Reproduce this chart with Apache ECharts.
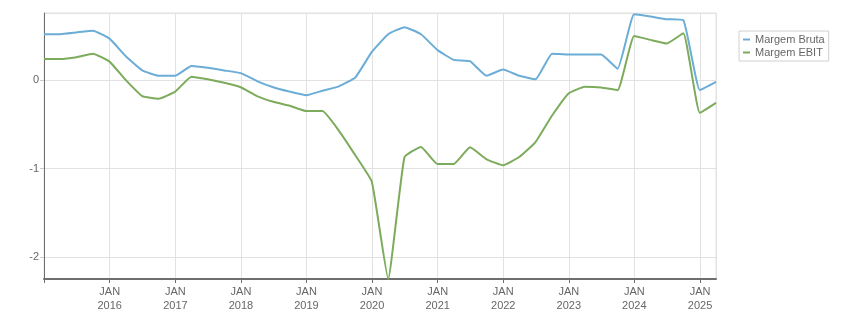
<!DOCTYPE html>
<html>
<head>
<meta charset="utf-8">
<script src="https://cdn.jsdelivr.net/npm/echarts@6/dist/echarts.min.js"></script>
<style>
  html, body { margin: 0; padding: 0; background: #fff; }
  #chart { width: 851px; height: 313px; }
</style>
</head>
<body>
<div id="chart"></div>
<script>
// quarter-end dates
const dates = [
  "2014-12-31",
  "2015-03-31", "2015-06-30", "2015-09-30", "2015-12-31",
  "2016-03-31", "2016-06-30", "2016-09-30", "2016-12-31",
  "2017-03-31", "2017-06-30", "2017-09-30", "2017-12-31",
  "2018-03-31", "2018-06-30", "2018-09-30", "2018-12-31",
  "2019-03-31", "2019-06-30", "2019-09-30", "2019-12-31",
  "2020-03-31", "2020-06-30", "2020-09-30", "2020-12-31",
  "2021-03-31", "2021-06-30", "2021-09-30", "2021-12-31",
  "2022-03-31", "2022-06-30", "2022-09-30", "2022-12-31",
  "2023-03-31", "2023-06-30", "2023-09-30", "2023-12-31",
  "2024-03-31", "2024-06-30", "2024-09-30", "2024-12-31",
  "2025-03-31"
];

const margemBruta = [
  0.52,
  0.52, 0.54, 0.56, 0.47,
  0.27, 0.11, 0.05, 0.05,
  0.16, 0.14, 0.11, 0.08,
  -0.01, -0.08, -0.13, -0.17,
  -0.12, -0.07, 0.03, 0.32,
  0.52, 0.60, 0.52, 0.34,
  0.23, 0.215, 0.05, 0.12,
  0.05, 0.01, 0.30, 0.29,
  0.29, 0.29, 0.13, 0.745,
  0.72, 0.69, 0.68, -0.113,
  -0.02
];

const margemEbit = [
  0.24,
  0.24, 0.26, 0.30, 0.21,
  0.0, -0.18, -0.21, -0.13,
  0.04, 0.01, -0.03, -0.08,
  -0.18, -0.245, -0.29, -0.35,
  -0.35, -0.57, -0.85, -1.15,
  -2.25, -0.87, -0.755, -0.95,
  -0.95, -0.76, -0.895, -0.963,
  -0.87, -0.70, -0.40, -0.15,
  -0.075, -0.083, -0.113, 0.50,
  0.456, 0.415, 0.53, -0.37,
  -0.257
];

const seriesNames = ["Margem Bruta", "Margem EBIT"];
const seriesColors = ["#6badd6", "#7dab5c"];

const YEAR = 365 * 24 * 3600 * 1000;
const font = "Liberation Sans, Arial, sans-serif";

function pairs(values) {
  return values.map((v, i) => [dates[i], v]);
}

const chart = echarts.init(document.getElementById("chart"));
chart.setOption({
  animation: false,
  textStyle: { fontFamily: font },
  grid: { left: 44, right: 135, top: 13, bottom: 34, show: true, borderColor: "#e2e2e2", borderWidth: 1 },
  legend: {
    orient: "vertical",
    left: 739,
    top: 31,
    padding: [2, 4, 2, 4],
    borderColor: "#d0d0d0",
    borderWidth: 1,
    itemGap: 0,
    itemWidth: 7,
    itemHeight: 2,
    icon: "rect",
    textStyle: { fontSize: 11, color: "#666", lineHeight: 13, fontFamily: font },
    data: seriesNames
  },
  xAxis: {
    type: "time",
    min: dates[0],
    max: dates[dates.length - 1],
    minInterval: YEAR,
    maxInterval: YEAR + 2 * 24 * 3600 * 1000,
    axisLine: { onZero: false, lineStyle: { color: "#6e6e6e", width: 2 } },
    axisTick: { show: true, length: 4, lineStyle: { color: "#6e6e6e" } },
    splitLine: { show: true, lineStyle: { color: "#e2e2e2" } },
    axisLabel: {
      color: "#666",
      fontSize: 11,
      lineHeight: 14,
      margin: 6,
      showMinLabel: false,
      showMaxLabel: false,
      formatter: function (v) {
        const d = new Date(v);
        if (d.getMonth() !== 0 || d.getFullYear() < 2016) return "";
        return "JAN\n" + d.getFullYear();
      }
    }
  },
  yAxis: {
    type: "value",
    min: -2.25,
    max: 0.76,
    splitNumber: 3,
    axisLine: { show: true, lineStyle: { color: "#6e6e6e", width: 1 } },
    axisTick: { show: true, length: 4, lineStyle: { color: "#ccc" } },
    splitLine: { show: true, lineStyle: { color: "#e2e2e2" } },
    axisLabel: {
      color: "#666",
      fontSize: 11,
      margin: 5,
      showMinLabel: false,
      showMaxLabel: false
    }
  },
  series: [
    {
      name: seriesNames[0],
      type: "line",
      data: pairs(margemBruta),
      color: seriesColors[0],
      showSymbol: false,
      smooth: 0.12,
      lineStyle: { width: 2 }
    },
    {
      name: seriesNames[1],
      type: "line",
      data: pairs(margemEbit),
      color: seriesColors[1],
      showSymbol: false,
      smooth: 0.12,
      lineStyle: { width: 2 }
    }
  ]
});
</script>
</body>
</html>
